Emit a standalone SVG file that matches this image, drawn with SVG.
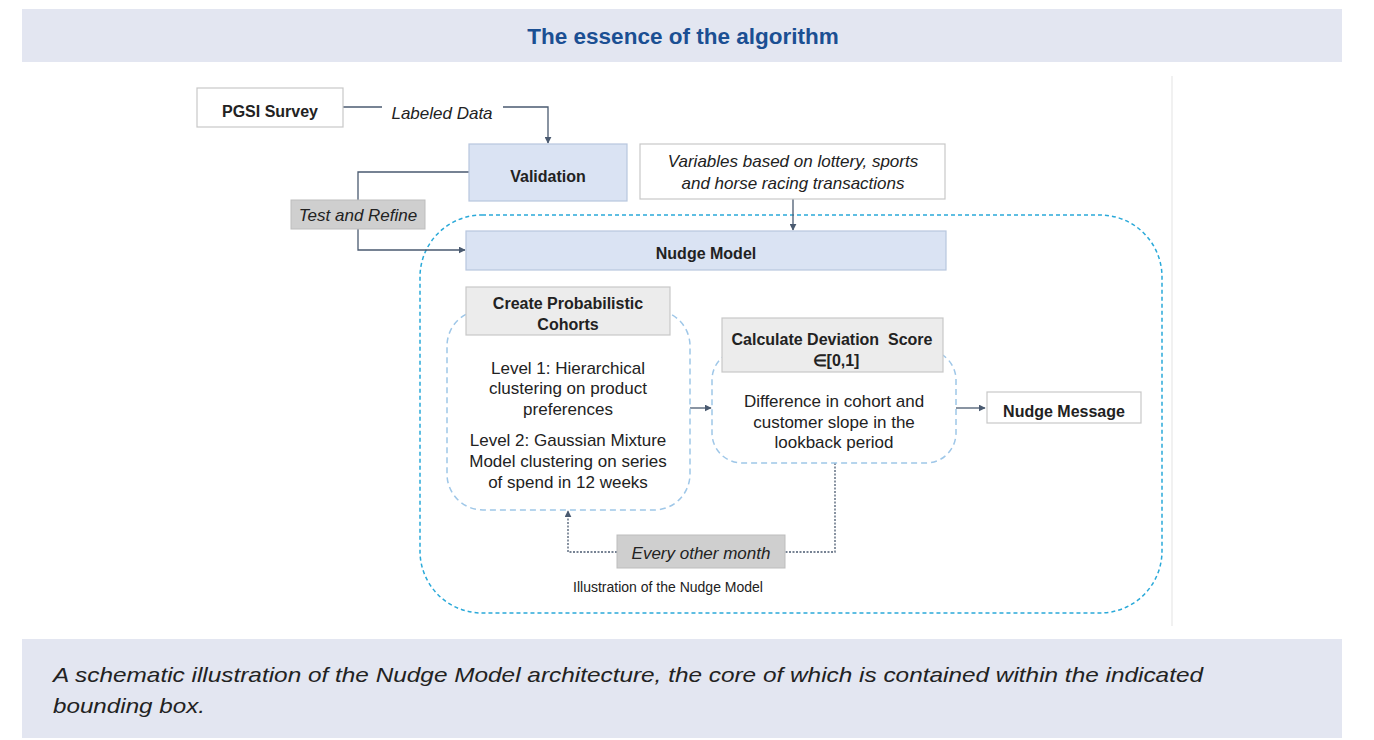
<svg xmlns="http://www.w3.org/2000/svg" width="1374" height="740" viewBox="0 0 1374 740">
  <style>
    .band { fill: #e3e6f1; }
    .title { font-family: "Liberation Sans", Arial, sans-serif; font-weight: bold; font-size: 22.5px; fill: #1b4f93; text-anchor: middle; }
    .caption { font-family: "Liberation Sans", Arial, sans-serif; font-style: italic; font-size: 21px; fill: #222222; }
    .t { font-family: "Liberation Sans", Arial, sans-serif; font-size: 17px; fill: #222222; text-anchor: middle; }
    .b { font-weight: bold; font-size: 16px; }
    .i { font-style: italic; font-size: 17px; }
    .small { font-size: 14px; }
    .box-white { fill: #ffffff; stroke: #c8c8c8; stroke-width: 1.2; }
    .box-blue { fill: #dae3f3; stroke: #b8c6de; stroke-width: 1.2; }
    .box-gray { fill: #cfcfcf; stroke: #bdbdbd; stroke-width: 1; }
    .box-gray-lt { fill: #ececec; stroke: #c8c8c8; stroke-width: 1.2; }
    .outer { fill: none; stroke: #2aa9d9; stroke-width: 1.5; stroke-dasharray: 4 3; }
    .inner { fill: none; stroke: #9fc7e8; stroke-width: 1.5; stroke-dasharray: 6 4; }
    .conn { fill: none; stroke: #4a5a70; stroke-width: 1.3; }
    .dot { fill: none; stroke: #4a5a70; stroke-width: 1.3; stroke-dasharray: 2 1.5; }
  </style>
  <defs>
    <marker id="arrow" viewBox="0 0 10 10" refX="9" refY="5" markerWidth="7" markerHeight="7" markerUnits="userSpaceOnUse" orient="auto">
      <path d="M0,0 L10,5 L0,10 z" fill="#4a5a70"/>
    </marker>
  </defs>

  <!-- page background -->
  <rect x="0" y="0" width="1374" height="740" fill="#ffffff"/>

  <!-- header band -->
  <g id="header">
    <rect class="band" x="22" y="9" width="1320" height="53"/>
    <text class="title" x="683" y="44">The essence of the algorithm</text>
  </g>

  <!-- figure frame edge -->
  <line x1="1172" y1="76" x2="1172" y2="626" stroke="#ececec" stroke-width="1.5"/>

  <!-- bounding box around the model core -->
  <rect id="core-boundary" class="outer" x="420" y="215" width="742" height="398" rx="62" ry="62"/>

  <!-- connectors -->
  <g id="connectors">
    <polyline class="conn" points="343,107 382,107"/>
    <polyline class="conn" points="503,107 548,107 548,143" marker-end="url(#arrow)"/>
    <polyline class="conn" points="469,172 358,172 358,200"/>
    <polyline class="conn" points="358,229 358,250 465,250" marker-end="url(#arrow)"/>
    <polyline class="conn" points="793,199 793,230" marker-end="url(#arrow)"/>
    <polyline class="conn" points="690,408 711,408" marker-end="url(#arrow)"/>
    <polyline class="conn" points="956,408 985,408" marker-end="url(#arrow)"/>
    <polyline class="dot" points="835,463 835,552 785,552"/>
    <polyline class="dot" points="617,552 568,552 568,511" marker-end="url(#arrow)"/>
  </g>

  <g id="pgsi-survey">
    <rect class="box-white" x="197" y="88" width="146" height="39"/>
    <text class="t b" x="270" y="117">PGSI Survey</text>
  </g>

  <g id="labeled-data">
    <text class="t i" x="442" y="119">Labeled Data</text>
  </g>

  <g id="validation">
    <rect class="box-blue" x="469" y="144" width="158" height="57"/>
    <text class="t b" x="548" y="182">Validation</text>
  </g>

  <g id="variables">
    <rect class="box-white" x="640" y="144" width="305" height="55"/>
    <text class="t i" x="793" y="167">Variables based on lottery, sports</text>
    <text class="t i" x="793" y="189">and horse racing transactions</text>
  </g>

  <g id="test-and-refine">
    <rect class="box-gray" x="291" y="200" width="134" height="29"/>
    <text class="t i" x="358" y="221">Test and Refine</text>
  </g>

  <g id="nudge-model">
    <rect class="box-blue" x="466" y="231" width="480" height="39"/>
    <text class="t b" x="706" y="259">Nudge Model</text>
  </g>

  <g id="create-cohorts">
    <rect class="inner" x="447" y="310" width="243" height="200" rx="36" ry="36"/>
    <rect class="box-gray-lt" x="466" y="287" width="204" height="48"/>
    <text class="t b" x="568" y="309">Create Probabilistic</text>
    <text class="t b" x="568" y="330">Cohorts</text>
    <text class="t" x="568" y="374">Level 1: Hierarchical</text>
    <text class="t" x="568" y="394">clustering on product</text>
    <text class="t" x="568" y="415">preferences</text>
    <text class="t" x="568" y="446">Level 2: Gaussian Mixture</text>
    <text class="t" x="568" y="467">Model clustering on series</text>
    <text class="t" x="568" y="488">of spend in 12 weeks</text>
  </g>

  <g id="deviation-score">
    <rect class="inner" x="712" y="350" width="244" height="113" rx="30" ry="30"/>
    <rect class="box-gray-lt" x="722" y="318" width="221" height="54"/>
    <text class="t b" x="832" y="345" xml:space="preserve">Calculate Deviation  Score</text>
    <text class="t b" x="836" y="366">∈[0,1]</text>
    <text class="t" x="834" y="407">Difference in cohort and</text>
    <text class="t" x="834" y="428">customer slope in the</text>
    <text class="t" x="834" y="448">lookback period</text>
  </g>

  <g id="nudge-message">
    <rect class="box-white" x="987" y="392" width="154" height="31"/>
    <text class="t b" x="1064" y="417">Nudge Message</text>
  </g>

  <g id="every-other-month">
    <rect class="box-gray" x="617" y="535" width="168" height="33"/>
    <text class="t i" x="701" y="559">Every other month</text>
  </g>

  <g id="figure-label">
    <text class="t small" x="668" y="592">Illustration of the Nudge Model</text>
  </g>

  <!-- caption band -->
  <g id="caption">
    <rect class="band" x="22" y="639" width="1320" height="99"/>
    <text class="caption" x="53" y="682" textLength="1150" lengthAdjust="spacingAndGlyphs">A schematic illustration of the Nudge Model architecture, the core of which is contained within the indicated</text>
    <text class="caption" x="53" y="713" textLength="152" lengthAdjust="spacingAndGlyphs">bounding box.</text>
  </g>
</svg>
